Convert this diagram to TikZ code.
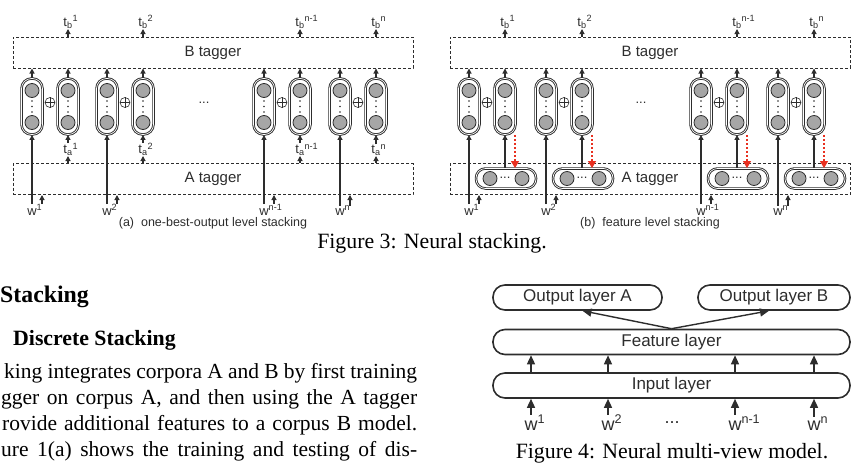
\documentclass[tikz,border=0pt]{standalone}
\usepackage{fontspec}
\setmainfont{Liberation Serif}
\newfontfamily\diagfont{Liberation Sans}
\usetikzlibrary{arrows.meta}

\definecolor{linegray}{RGB}{45,45,45}
\definecolor{unitgray}{RGB}{166,166,166}
\definecolor{arrowred}{RGB}{232,48,32}

\newcommand\capfs{\fontsize{21.8}{26}\selectfont}
\newcommand\bodyfs{\fontsize{21.5}{26}\selectfont}

\tikzset{
  tagbox/.style={draw=linegray, line width=1pt, dash pattern=on 3pt off 2pt,
    minimum width=400pt, minimum height=31pt, inner sep=0pt,
    text=linegray, font=\diagfont\fontsize{15}{15}\selectfont},
  vpill/.style={draw=linegray, double, double distance=0.7pt, line width=0.9pt,
    rounded corners=10pt, minimum width=21pt, minimum height=56pt, inner sep=0pt},
  hpill/.style={draw=linegray, double, double distance=0.7pt, line width=0.9pt,
    rounded corners=9.5pt, minimum width=60pt, minimum height=20pt, inner sep=0pt},
  cell/.style={circle, draw=linegray, line width=0.8pt, fill=unitgray,
    minimum size=14pt, inner sep=0pt},
  opl/.style={circle, draw=linegray, line width=0.6pt, minimum size=10pt, inner sep=0pt},
  wlbl/.style={inner sep=0pt, text=linegray, font=\diagfont\fontsize{13}{13}\selectfont},
  upar/.style={draw=linegray, line width=1.1pt, -{Triangle[width=5pt,length=5pt]}},
  redar/.style={draw=arrowred, line width=1.1pt, dash pattern=on 2.5pt off 1.5pt,
    -{Triangle[width=8pt,length=7pt]}},
  viewlayer/.style={draw=linegray, line width=1.6pt, rounded corners=12pt,
    minimum height=25pt, inner sep=0pt, text=linegray,
    font=\diagfont\fontsize{17}{17}\selectfont},
  flbl/.style={inner sep=0pt, text=linegray, font=\diagfont\fontsize{18}{18}\selectfont},
  bigar/.style={draw=linegray, line width=1.4pt, -{Triangle[width=8pt,length=9pt]}},
}

\begin{document}
\begin{tikzpicture}[x=1pt, y=-1pt]
\useasboundingbox (0,0) rectangle (856,472);

% (a) one-best-output level stacking
\node[tagbox] (btagA) at (213,52.5) {B tagger};
\node[tagbox] (atagA) at (213,179) {A tagger};
\foreach \i/\x/\s in {1/32/1, 2/107/2, 3/264/n-1, 4/340/n} {
  \node[vpill] (al\i) at (\x,106.5) {};
  \node[cell] (alt\i) at (\x,90.5) {};
  \node[cell] (alb\i) at (\x,122.5) {};
  \node[opl] (aop\i) at (\x+18,102.5) {};
  \draw[linegray, line width=0.6pt] (aop\i.north) -- (aop\i.south) (aop\i.west) -- (aop\i.east);
  \node[vpill] (ar\i) at (\x+36,106.5) {};
  \node[cell] (art\i) at (\x+36,90.5) {};
  \node[cell] (arb\i) at (\x+36,122.5) {};
  \foreach \d in {101,106.5,112} {
    \fill[linegray] (\x,\d) circle (0.8pt);
    \fill[linegray] (\x+36,\d) circle (0.8pt);
  }
  \node[wlbl, anchor=south] (tbA\i) at (\x+36,29) {t\textsubscript{b}\rlap{\textsuperscript{\s}}};
  \node[wlbl, anchor=south] (taA\i) at (\x+36,156) {t\textsubscript{a}\rlap{\textsuperscript{\s}}};
  \node[wlbl, anchor=base] (wA\i) at (\x,215) {w\rlap{\textsuperscript{\s}}};
  \draw[upar] (al\i.north) -- (al\i.north |- btagA.south);
  \draw[upar] (ar\i.north) -- (ar\i.north |- btagA.south);
  \draw[upar] (ar\i.north |- btagA.north) -- (tbA\i.south);
  \draw[upar] (ar\i.south |- atagA.north) -- (taA\i.south);
  \draw[upar] (taA\i.north) -- (ar\i.south);
  \draw[upar] (wA\i.north) -- (al\i.south);
  \draw[upar] ([xshift=10pt]wA\i.north) -- ([xshift=10pt]wA\i.north |- atagA.south);
}
\node[wlbl] (dotsA) at (204,103) {...};
\node[text=linegray, font=\diagfont\fontsize{12.5}{12.5}\selectfont] (capA) at (213,223)
  {(a)\ \ one-best-output level stacking};

% (b) feature level stacking
\node[tagbox] (btagB) at (650,52.5) {B tagger};
\node[tagbox] (atagB) at (650,179) {A tagger};
\foreach \i/\x/\s in {1/469/1, 2/546/2, 3/701/n-1, 4/778/n} {
  \node[vpill] (bl\i) at (\x,106.5) {};
  \node[cell] (blt\i) at (\x,90.5) {};
  \node[cell] (blb\i) at (\x,122.5) {};
  \node[opl] (bop\i) at (\x+18,102.5) {};
  \draw[linegray, line width=0.6pt] (bop\i.north) -- (bop\i.south) (bop\i.west) -- (bop\i.east);
  \node[vpill] (br\i) at (\x+36,106.5) {};
  \node[cell] (brt\i) at (\x+36,90.5) {};
  \node[cell] (brb\i) at (\x+36,122.5) {};
  \foreach \d in {101,106.5,112} {
    \fill[linegray] (\x,\d) circle (0.8pt);
    \fill[linegray] (\x+36,\d) circle (0.8pt);
  }
  \node[hpill] (bh\i) at (\x+37,178.5) {};
  \node[cell] (bhl\i) at (\x+21,178.5) {};
  \node[cell] (bhr\i) at (\x+53,178.5) {};
  \node[wlbl] (bhd\i) at (\x+36,178) {...};
  \node[wlbl, anchor=south] (tbB\i) at (\x+36,29) {t\textsubscript{b}\rlap{\textsuperscript{\s}}};
  \node[wlbl, anchor=base] (wB\i) at (\x,215) {w\rlap{\textsuperscript{\s}}};
  \draw[upar] (bl\i.north) -- (bl\i.north |- btagB.south);
  \draw[upar] (br\i.north) -- (br\i.north |- btagB.south);
  \draw[upar] (br\i.north |- btagB.north) -- (tbB\i.south);
  \draw[upar] (br\i.south |- bh\i.north) -- (br\i.south);
  \draw[redar] ([xshift=10pt]br\i.south) -- ([xshift=10pt]br\i.south |- bh\i.north);
  \draw[upar] (wB\i.north) -- (bl\i.south);
  \draw[upar] ([xshift=10pt]wB\i.north) -- ([xshift=10pt]wB\i.north |- atagB.south);
}
\node[wlbl] (dotsB) at (641,103) {...};
\node[text=linegray, font=\diagfont\fontsize{12.5}{12.5}\selectfont] (capB) at (650,223)
  {(b)\ \ feature level stacking};

\node[anchor=base, font=\capfs] (fig3cap) at (432,248) {Figure 3: Neural stacking.};

% text of the page
\node[anchor=base west, inner sep=0pt, font=\fontsize{23.8}{28}\selectfont\bfseries] (sec) at (0,302) {Stacking};
\node[anchor=base west, inner sep=0pt, font=\capfs\bfseries] (subsec) at (13,345) {Discrete Stacking};
\node[anchor=base west, inner sep=0pt, font=\bodyfs] (line1) at (4,378)
  {\makebox[413pt][s]{king integrates corpora A and B by first training}};
\node[anchor=base west, inner sep=0pt, font=\bodyfs] (line2) at (1,404)
  {\makebox[416pt][s]{gger on corpus A, and then using the A tagger}};
\node[anchor=base west, inner sep=0pt, font=\bodyfs] (line3) at (2,430)
  {\makebox[415pt][s]{rovide additional features to a corpus B model.}};
\node[anchor=base west, inner sep=0pt, font=\bodyfs] (line4) at (1,456)
  {\makebox[416pt][s]{ure 1(a) shows the training and testing of dis-}};

% multi-view model
\node[viewlayer, minimum width=169pt] (outa) at (577.5,297.5) {Output layer A};
\node[viewlayer, minimum width=152pt] (outb) at (774,297.5) {Output layer B};
\node[viewlayer, minimum width=357pt] (feat) at (671.5,342) {Feature layer};
\node[viewlayer, minimum width=357pt] (inp) at (671.5,385.5) {Input layer};
\draw[bigar] (feat.north) -- ([xshift=5pt]outa.south);
\draw[bigar] (feat.north) -- ([xshift=-5pt]outb.south);
\foreach \i/\x/\s in {1/531/1, 2/608/2, 3/735/n-1, 4/814/n} {
  \node[flbl, anchor=base] (fw\i) at (\x,430) {w\rlap{\textsuperscript{\s}}};
  \draw[bigar] (fw\i.north) -- (fw\i.north |- inp.south);
  \draw[bigar] (fw\i.north |- inp.north) -- (fw\i.north |- feat.south);
}
\node[flbl] (fdots) at (672,423) {...};
\node[anchor=base, font=\capfs] (fig4cap) at (672,458) {Figure 4: Neural multi-view model.};
\end{tikzpicture}
\end{document}
